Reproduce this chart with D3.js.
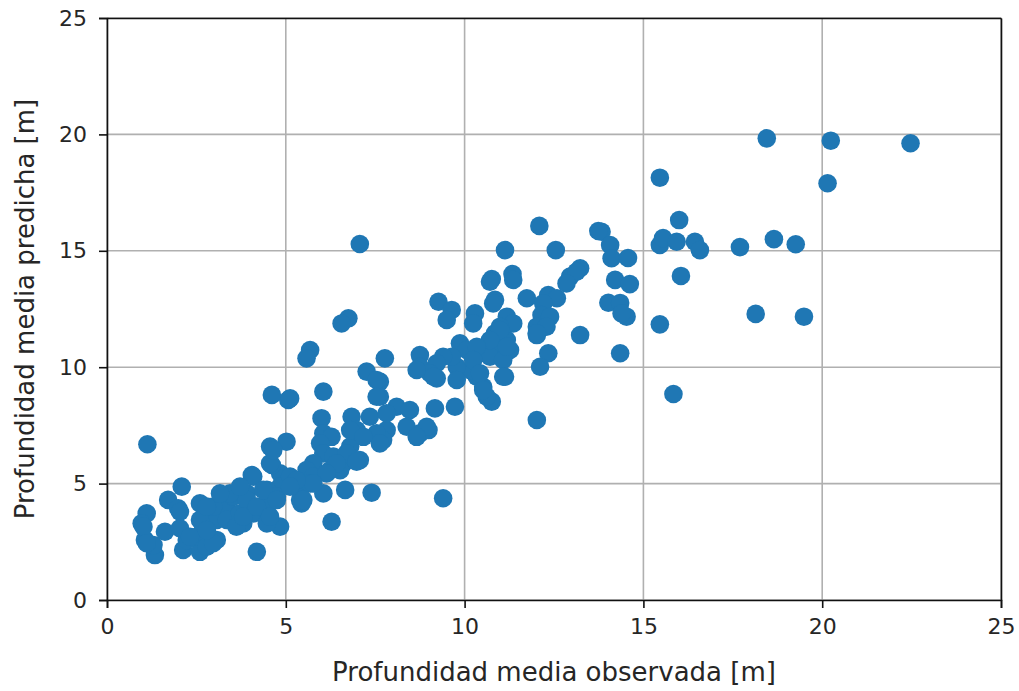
<!DOCTYPE html>
<html lang="en">

<head>
  <meta charset="UTF-8">
  <script src="https://d3js.org/d3.v7.min.js"></script>
  <style>
    body { margin: 0; background: white; }
    text { font-family: "DejaVu Sans", sans-serif; fill: #262626; }
  </style>
</head>

<body>
  <svg id="chart" width="1019" height="691"></svg>

  <script>
    const observed = [
      18.45, 20.24, 22.47, 15.46, 20.15, 16.0, 13.83, 14.07, 15.46, 15.55, 15.93, 16.44, 16.58, 17.70, 18.65, 19.26,
      14.11, 14.57, 14.21, 14.62, 16.05, 14.02, 14.35, 14.53, 14.39, 15.46, 18.14, 19.49, 14.35, 15.84,
      12.09, 13.74, 11.13, 12.55, 10.76, 11.34, 13.23, 12.95, 13.13, 13.23, 12.02, 9.27, 9.64, 9.50, 10.29, 10.85,
      11.74, 12.34, 12.58, 12.2, 12.15, 12.39, 12.02, 12.02, 12.29, 11.18, 11.36, 10.99, 10.85, 11.18, 11.27, 10.90,
      10.24, 9.87, 10.06, 10.43, 10.71, 11.08, 11.13, 12.34, 12.11, 10.52, 10.76, 10.62, 10.34, 10.15, 9.78, 9.64,
      9.40, 9.22, 8.75, 8.75, 9.03, 9.22, 9.78, 7.77, 9.17, 9.73, 7.63, 7.63, 8.10, 8.47, 8.38, 8.75, 8.99, 7.82, 7.72,
      10.71, 11.36, 12.85, 10.80, 10.99, 10.71, 10.34, 11.18, 12.02, 10.24, 8.66, 9.13, 10.43, 11.08, 10.52, 8.94,
      6.75, 6.56, 5.68, 5.58, 7.26, 7.54, 7.54, 6.05, 5.07, 6.84, 7.35, 7.82, 6.0, 6.98, 7.54, 7.63, 8.66, 6.05, 6.28,
      5.02, 5.96, 6.80, 6.05, 6.33, 7.07, 5.77, 6.61, 5.58, 6.24, 6.52, 5.77, 4.84, 5.21, 5.40, 6.05, 6.66, 7.40, 5.44,
      6.28, 4.84, 9.40, 4.84, 6.80, 7.17, 6.70, 6.98, 6.42, 6.14, 5.68, 5.12, 5.40, 7.07,
      1.13, 4.61, 5.12, 4.56, 4.61, 4.05, 2.09, 1.71, 1.99, 1.11, 0.97, 1.06, 1.34, 1.62, 1.30, 2.13, 2.60, 2.23, 2.51,
      2.79, 3.07, 4.19, 2.60, 2.79, 2.69, 3.07, 3.35, 3.35, 3.53, 3.72, 3.91, 4.09, 4.47, 4.47, 4.75, 5.77, 4.47, 3.81,
      2.04, 1.02, 1.11, 2.04, 2.60, 2.32, 2.97, 2.79, 2.97, 3.44, 3.62, 3.91, 3.81, 4.19, 4.09, 4.56, 4.65, 4.37, 4.56,
      4.75, 5.30, 5.49, 5.12, 3.72, 3.16, 2.79
    ];
    const predicted = [
      19.83, 19.73, 19.62, 18.14, 17.9, 16.32, 15.82, 15.25, 15.25, 15.55, 15.39, 15.39, 15.03, 15.16, 15.5, 15.28,
      14.68, 14.69, 13.75, 13.57, 13.92, 12.77, 12.76, 12.17, 12.31, 11.84, 12.29, 12.17, 10.6, 8.85,
      16.07, 15.85, 15.03, 15.03, 13.79, 14.0, 14.25, 13.89, 14.1, 11.38, 7.73, 12.81, 12.46, 12.03, 12.31, 12.89,
      12.96, 13.1, 12.96, 12.74, 12.24, 12.17, 11.74, 11.38, 11.74, 12.17, 11.88, 11.74, 11.46, 11.17, 10.74, 10.88,
      11.88, 11.03, 10.74, 10.6, 10.45, 10.31, 9.59, 10.6, 10.02, 9.16, 8.52, 8.73, 9.59, 9.88, 10.02, 10.45,
      10.45, 10.17, 10.52, 10.02, 9.74, 9.52, 9.45, 10.38, 8.23, 8.3, 9.38, 8.73, 8.3, 8.16, 7.44, 7.16, 7.30, 7.30, 6.87,
      13.67, 13.75, 13.6, 12.74, 11.60, 11.17, 10.88, 10.88, 11.46, 10.31, 9.88, 9.59, 9.74, 9.59, 9.02, 7.44,
      12.10, 11.88, 10.74, 10.38, 9.81, 9.45, 8.73, 8.95, 8.59, 7.87, 7.87, 8.02, 7.81, 7.30, 7.16, 6.73, 7.01, 7.16, 7.01,
      6.8, 6.73, 6.59, 6.30, 6.16, 6.01, 5.87, 5.87, 5.58, 5.58, 5.58, 5.30, 5.44, 5.15, 4.73, 4.58, 4.73, 4.61, 4.15,
      3.36, 3.15, 4.37, 4.87, 7.30, 7.01, 6.30, 5.94, 5.87, 5.44, 5.01, 5.30, 4.30, 15.29,
      6.69, 8.81, 8.66, 6.59, 5.80, 5.37, 4.87, 4.30, 3.94, 3.72, 3.29, 2.58, 1.93, 2.93, 2.36, 2.15, 2.07, 2.58, 2.72,
      2.29, 2.58, 2.07, 4.15, 3.72, 3.15, 3.44, 4.01, 3.44, 4.44, 3.72, 4.58, 3.72, 4.01, 4.73, 4.44, 5.01, 3.29, 3.29,
      3.08, 3.15, 2.44, 3.79, 3.44, 2.72, 2.44, 3.0, 4.01, 4.58, 3.15, 4.30, 3.58, 4.01, 5.30, 5.87, 6.44, 4.73, 3.58,
      4.30, 5.15, 4.30, 4.87, 4.87, 4.58, 4.01
    ];
    const xTicks = [0, 5, 10, 15, 20, 25];
    const yTicks = [0, 5, 10, 15, 20, 25];
    const xLabel = "Profundidad media observada [m]";
    const yLabel = "Profundidad media predicha [m]";

    const svg = d3.select("#chart");
    const margins = { top: 18, right: 18, bottom: 91, left: 107 };
    const plotWidth = 1019 - margins.left - margins.right;
    const plotHeight = 691 - margins.top - margins.bottom;
    const plot = svg.append("g")
      .attr("transform", "translate(" + margins.left + ", " + margins.top + ")");

    const x = d3.scaleLinear().domain([0, 25]).range([0, plotWidth]);
    const y = d3.scaleLinear().domain([0, 25]).range([plotHeight, 0]);

    // grid
    plot.selectAll("line.gx").data(xTicks)
      .join("line")
      .attr("class", "gx")
      .attr("x1", d => x(d)).attr("x2", d => x(d))
      .attr("y1", 0).attr("y2", plotHeight)
      .attr("stroke", "#b0b0b0").attr("stroke-width", 1.6);
    plot.selectAll("line.gy").data(yTicks)
      .join("line")
      .attr("class", "gy")
      .attr("x1", 0).attr("x2", plotWidth)
      .attr("y1", d => y(d)).attr("y2", d => y(d))
      .attr("stroke", "#b0b0b0").attr("stroke-width", 1.6);

    // points
    const pts = observed.map((o, i) => [o, predicted[i]]);
    plot.selectAll("circle").data(pts)
      .join("circle")
      .attr("cx", d => x(d[0]))
      .attr("cy", d => y(d[1]))
      .attr("r", 9.3)
      .attr("fill", "#1f77b4");

    // axes
    plot.append("g")
      .attr("transform", "translate(0," + plotHeight + ")")
      .call(d3.axisBottom(x).tickValues(xTicks).tickSize(8).tickPadding(10));
    plot.append("g")
      .call(d3.axisLeft(y).tickValues(yTicks).tickSize(8).tickPadding(12));
    plot.append("g")
      .call(d3.axisTop(x).tickValues([]).tickSizeOuter(0));
    plot.append("g")
      .attr("transform", "translate(" + plotWidth + ",0)")
      .call(d3.axisRight(y).tickValues([]).tickSizeOuter(0));

    svg.selectAll(".domain").attr("stroke", "#111").attr("stroke-width", 1.6);
    svg.selectAll(".tick line").attr("stroke", "#111").attr("stroke-width", 1.6);
    svg.selectAll(".tick text")
      .attr("font-family", "DejaVu Sans")
      .attr("font-size", 22)
      .attr("fill", "#262626");

    svg.append("text")
      .attr("x", margins.left + plotWidth / 2)
      .attr("y", 681)
      .attr("text-anchor", "middle")
      .attr("font-size", 26)
      .text(xLabel);

    svg.append("text")
      .attr("transform", "translate(34," + (margins.top + plotHeight / 2) + ") rotate(-90)")
      .attr("text-anchor", "middle")
      .attr("font-size", 26)
      .text(yLabel);
  </script>
</body>

</html>
